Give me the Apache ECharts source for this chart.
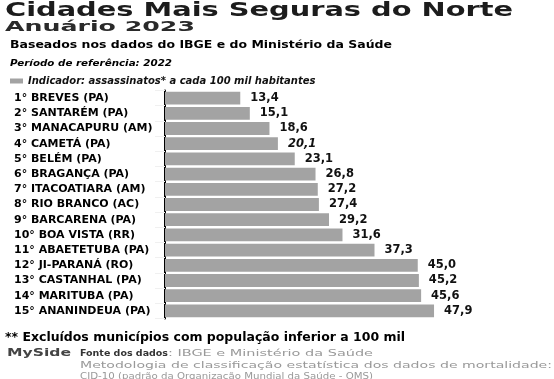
<!DOCTYPE html>
<html><head><meta charset="utf-8">
<script src="https://cdn.jsdelivr.net/npm/echarts@6/dist/echarts.min.js"></script>
<style>html,body{margin:0;padding:0;background:#fff}#c{width:554px;height:379px}</style>
</head><body><div id="c"></div>
<script>
const cities = ["1° BREVES (PA)","2° SANTARÉM (PA)","3° MANACAPURU (AM)","4° CAMETÁ (PA)","5° BELÉM (PA)","6° BRAGANÇA (PA)","7° ITACOATIARA (AM)","8° RIO BRANCO (AC)","9° BARCARENA (PA)","10° BOA VISTA (RR)","11° ABAETETUBA (PA)","12° JI-PARANÁ (RO)","13° CASTANHAL (PA)","14° MARITUBA (PA)","15° ANANINDEUA (PA)"];
const values = [13.4,15.1,18.6,20.1,23.1,26.8,27.2,27.4,29.2,31.6,37.3,45.0,45.2,45.6,47.9];
const italicIndex = [3];
const legendName = "Indicador: assassinatos* a cada 100 mil habitantes";
const titleText = "Cidades Mais Seguras do Norte";
const subtitleText = "Anuário 2023";
const baseText = "Baseados nos dados do IBGE e do Ministério da Saúde";
const periodText = "Período de referência: 2022";
const noteText = "** Excluídos municípios com população inferior a 100 mil";
const brandText = "MySide";
const sourceLabel = "Fonte dos dados";
const sourceText = ": IBGE e Ministério da Saúde";
const methodLine1 = "Metodologia de classificação estatística dos dados de mortalidade:";
const methodLine2 = "CID-10 (padrão da Organização Mundial da Saúde - OMS)";

const cv = document.createElement('canvas').getContext('2d');
function fit(str, font, x, y, w, color) {
  cv.font = font;
  const m = cv.measureText(str).width;
  return {type:'text', x:x, y:y, scaleX: w/m, silent:true,
    style:{text:str, font:font, fill:color, align:'left', verticalAlign:'middle', textAlign:'left', textVerticalAlign:'middle'}};
}

const chart = echarts.init(document.getElementById('c'));
chart.setOption({
  animation:false,
  backgroundColor:'#fff',
  legend:{left:5, top:71, itemWidth:13, itemHeight:5, itemGap:6, icon:'rect',
    textStyle:{fontFamily:'DejaVu Sans', fontWeight:'bold', fontStyle:'italic', fontSize:10, color:'#111'},
    data:[legendName]},
  grid:{left:165, top:90.5, height:228, width:337},
  xAxis:{type:'value', min:0, max:60, show:false},
  yAxis:{type:'category', inverse:true, data:cities,
    axisLine:{show:true, lineStyle:{color:'#000', width:2}},
    axisTick:{show:true, length:10, lineStyle:{color:'#f0f0f0'}},
    axisLabel:{align:'left', margin:151, fontFamily:'DejaVu Sans', fontWeight:'bold', fontSize:11, color:'#000'}},
  series:[{type:'bar', name:legendName, barCategoryGap:'16%',
    itemStyle:{color:'#a3a3a3'},
    data: values.map((v,i)=>({value:v, label:{fontStyle: italicIndex.includes(i)?'italic':'normal'}})),
    label:{show:true, position:'right', distance:10, fontFamily:'DejaVu Sans', fontWeight:'bold', fontSize:11.5, color:'#111',
      formatter:p=>p.value.toFixed(1).replace('.',',')}}],
  graphic:[
    fit(titleText, 'bold 19px "DejaVu Sans"', 5, 11, 508, '#1c1c1c'),
    fit(subtitleText, 'bold 14px "DejaVu Sans"', 5, 27.5, 190, '#2a2a2a'),
    fit(baseText, 'bold 11px "DejaVu Sans"', 10, 45, 382, '#000'),
    fit(periodText, 'italic bold 9px "DejaVu Sans"', 10, 63.5, 162, '#000'),
    fit(noteText, 'bold 13px "DejaVu Sans"', 5, 338, 400, '#000'),
    fit(brandText, 'bold 10px "DejaVu Sans"', 7, 353.5, 64, '#444'),
    fit(sourceLabel, 'bold 9px "DejaVu Sans"', 80, 354, 88, '#333'),
    fit(sourceText, '9px "DejaVu Sans"', 168, 354, 205, '#999'),
    fit(methodLine1, '9px "DejaVu Sans"', 80, 366, 472, '#999'),
    fit(methodLine2, '9px "DejaVu Sans"', 80, 377, 293, '#999')
  ]
});
</script></body></html>
